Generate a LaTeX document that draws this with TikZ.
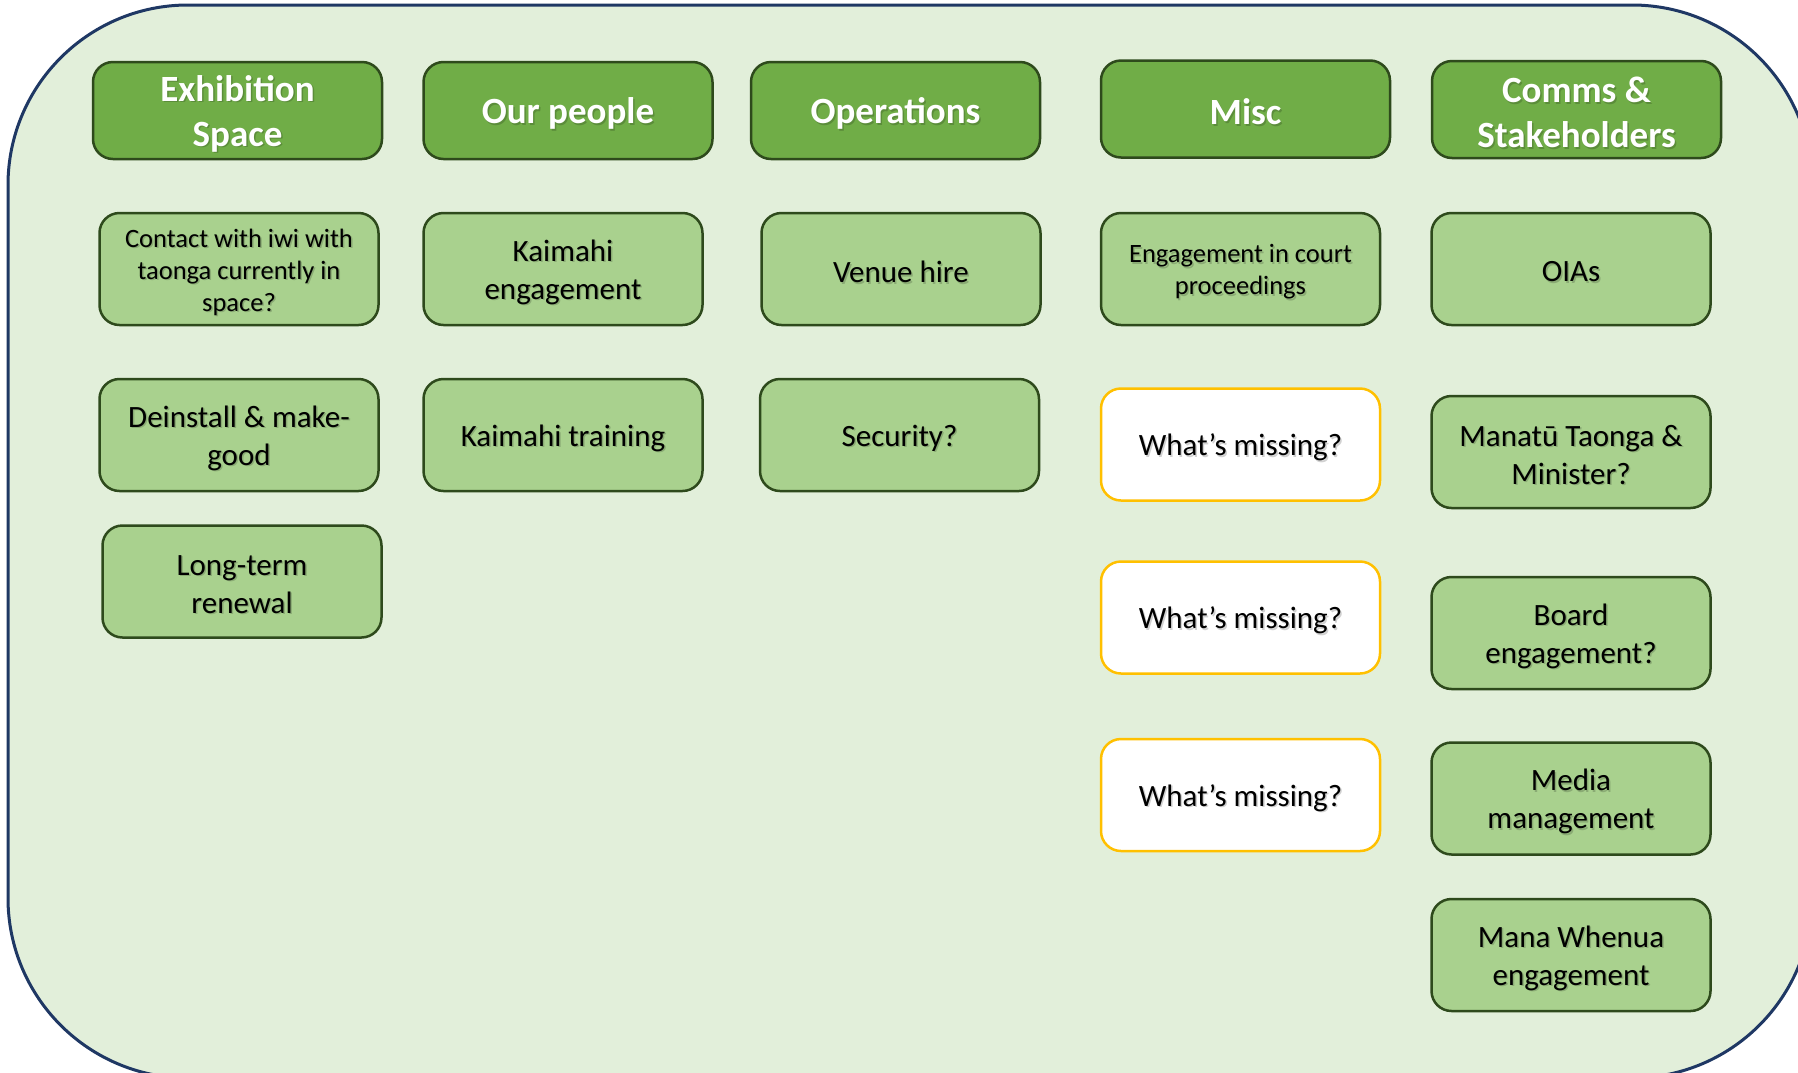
\documentclass[tikz,border=0pt]{standalone}
\usepackage{fontspec}
\setmainfont{Carlito}
\definecolor{bgc}{HTML}{E2EFDA}
\definecolor{navy}{HTML}{1F3864}
\definecolor{hdrfill}{HTML}{70AD47}
\definecolor{boxfill}{HTML}{A9D18E}
\definecolor{edge}{HTML}{2E4A1C}
\definecolor{amber}{HTML}{FFC000}
\tikzset{
  hdr/.style={draw=edge, fill=hdrfill, line width=2.5pt, rounded corners=20pt,
    minimum width=289pt, minimum height=97pt, align=center, text=white,
    font=\fontsize{37}{45}\selectfont\bfseries, inner sep=0pt},
  item/.style={draw=edge, fill=boxfill, line width=2.5pt, rounded corners=20pt,
    minimum width=279pt, minimum height=112pt, align=center, text=black,
    font=\fontsize{31}{38}\selectfont, inner sep=0pt},
  small/.style={font=\fontsize{26.5}{32}\selectfont},
  miss/.style={item, draw=amber, fill=white},
  shadowtext/.style={text=black, opacity=0.18},
}
% #1 style, #2 name, #3 x, #4 y, #5 text
\newcommand\card[5]{%
  \node[#1, path picture={%
    \node[shadowtext] (#2-sh) at ([shift={(1.5pt,-4.5pt)}]path picture bounding box.center) {#5};
    \node (#2-tx) at ([shift={(0pt,-3pt)}]path picture bounding box.center) {#5};
  }] (#2) at (#3,#4) {};%
}
\begin{document}
\begin{tikzpicture}[x=1pt,y=-1pt]
\useasboundingbox (0,0) rectangle (1798,1072);
\clip (0,0) rectangle (1798,1072);
\path[fill=bgc, draw=navy, line width=3pt, rounded corners=180pt] (8,5) rectangle (1812,1078);
% headers
\card{hdr}{exh}{237.5}{110.5}{Exhibition\\Space}
\card{hdr}{ppl}{568}{110.5}{Our people}
\card{hdr}{ops}{895.5}{110.5}{Operations}
\card{hdr}{misc}{1245.5}{109}{Misc}
\card{hdr}{comms}{1576.5}{109.5}{Comms \&\\Stakeholders}
% row 2
\card{item,small}{contact}{239}{269}{Contact with iwi with\\taonga currently in\\space?}
\card{item}{kaie}{563}{269}{Kaimahi\\engagement}
\card{item}{venue}{901}{269}{Venue hire}
\card{item,small}{court}{1240.5}{269}{Engagement in court\\proceedings}
\card{item}{oias}{1571}{269}{OIAs}
% row 3
\card{item}{deinst}{239}{435}{Deinstall \& make-\\good}
\card{item}{ktrain}{563}{435}{Kaimahi training}
\card{item}{secur}{899.5}{435}{Security?}
\card{miss}{wm1}{1240.5}{444.5}{What’s missing?}
\card{item}{manatu}{1571}{452}{Manatū Taonga \&\\Minister?}
% row 4
\card{item}{longt}{242}{581.5}{Long-term\\renewal}
\card{miss}{wm2}{1240.5}{617.5}{What’s missing?}
\card{item}{board}{1571}{633}{Board\\engagement?}
% row 5
\card{miss}{wm3}{1240.5}{795}{What’s missing?}
\card{item}{media}{1571}{798.5}{Media\\management}
\card{item}{mana}{1571}{955}{Mana Whenua\\engagement}
\end{tikzpicture}
\end{document}
